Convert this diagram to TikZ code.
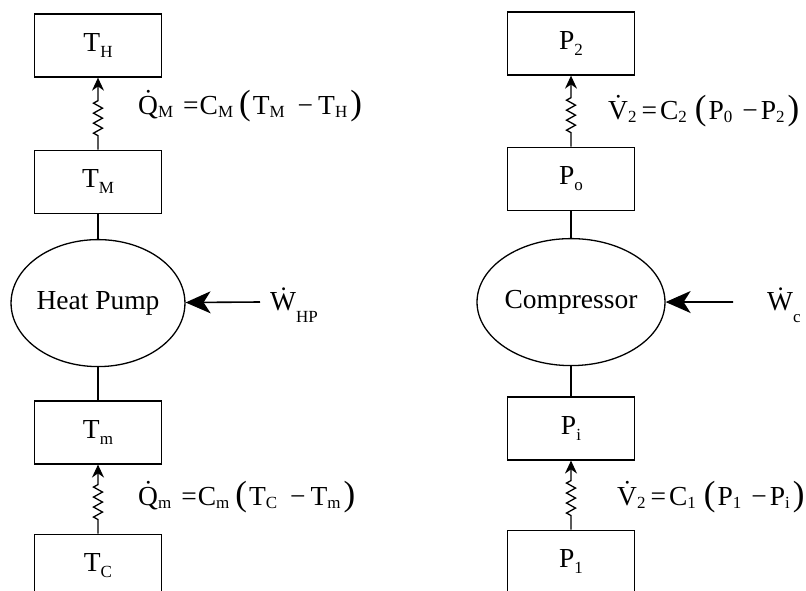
\documentclass[tikz,border=0pt]{standalone}
\usepackage{fontspec}
\setmainfont{Liberation Serif}
\usetikzlibrary{positioning,shapes.geometric,decorations.pathmorphing,arrows.meta}

\newcommand\lo[2][3pt]{\raisebox{-#1}{\fontsize{17}{17}\selectfont #2}}
\newcommand\bpar[1]{{\fontsize{35}{35}\selectfont #1}}

\begin{document}
\begin{tikzpicture}[
    x=1pt, y=1pt,
    font=\fontsize{27.5}{30}\selectfont,
    box/.style={rectangle, draw, line width=1.3pt, minimum width=127pt, minimum height=63pt, inner sep=0pt},
    unit/.style={ellipse, draw, line width=1.3pt, minimum width=168pt, minimum height=127pt, inner sep=0pt},
    link/.style={line width=1.3pt},
    spring/.style={line width=1.3pt, -{Stealth[length=13pt, width=12pt]}, decorate, decoration={zigzag, segment length=10pt, amplitude=4.5pt, pre length=14pt, post length=20pt}},
    push/.style={line width=1.6pt, -{Stealth[length=25pt, width=22pt, inset=7pt]}},
    eq/.style={anchor=base west, inner sep=0pt}
]
\useasboundingbox (0,0) rectangle (806,-590);

% Nodes
\node[box] (TH) at (98,-45.5) {T\lo[6pt]{H}};
\node[box, below=72pt of TH] (TM) {T\lo[6pt]{M}};
\node[unit, below=25pt of TM] (HP) {Heat Pump};
\node[box, below=33pt of HP] (Tm) {T\lo[6pt]{m}};
\node[box, below=69pt of Tm] (TC) {T\lo[6pt]{C}};

\node[box] (P2) at (571,-43.5) {P\lo[6pt]{2}};
\node[box, below=71pt of P2] (Po) {P\lo[6pt]{o}};
\node[unit, below=27pt of Po] (CP) {Compressor};
\node[box, below=30pt of CP] (Pi) {P\lo[6pt]{i}};
\node[box, below=69pt of Pi] (P1) {P\lo[6pt]{1}};

\node[eq] (qM) at (138,-114) {\.{Q}\lo{M}\hspace{10pt}=\hspace{1pt}C\lo{M}\hspace{6pt}\bpar{(}\hspace{2pt}T\lo{M}\hspace{13pt}−\hspace{5pt}T\lo{H}\hspace{3pt}\bpar{)}};
\node[eq] (qm) at (138,-505) {\.{Q}\lo{m}\hspace{10pt}=\hspace{1pt}C\lo{m}\hspace{6pt}\bpar{(}\hspace{2pt}T\lo{C}\hspace{13pt}−\hspace{5pt}T\lo{m}\hspace{3pt}\bpar{)}};
\node[eq] (v2) at (608,-119) {\.{V}\lo{2}\hspace{5pt}=\hspace{3pt}C\lo{2}\hspace{8pt}\bpar{(}\hspace{2pt}P\lo{0}\hspace{10pt}−\hspace{3pt}P\lo{2}\hspace{3pt}\bpar{)}};
\node[eq] (v1) at (617,-505) {\.{V}\lo{2}\hspace{5pt}=\hspace{3pt}C\lo{1}\hspace{8pt}\bpar{(}\hspace{2pt}P\lo{1}\hspace{10pt}−\hspace{3pt}P\lo{i}\hspace{3pt}\bpar{)}};

\node[eq] (wHPlab) at (270,-310) {\.{W}\lo[12pt]{HP}};
\node[eq] (wClab) at (767,-310) {\.{W}\lo[12pt]{c}};
\coordinate (wHP) at (260,-302);
\coordinate (wC) at (733,-302);

% Edges
\draw[spring] (TM) -- (TH);
\draw[link] (TM) -- (HP);
\draw[link] (HP) -- (Tm);
\draw[spring] (TC) -- (Tm);
\draw[push] (wHP) -- (HP);

\draw[spring] (Po) -- (P2);
\draw[link] (Po) -- (CP);
\draw[link] (CP) -- (Pi);
\draw[spring] (P1) -- (Pi);
\draw[push] (wC) -- (CP);

\end{tikzpicture}
\end{document}
